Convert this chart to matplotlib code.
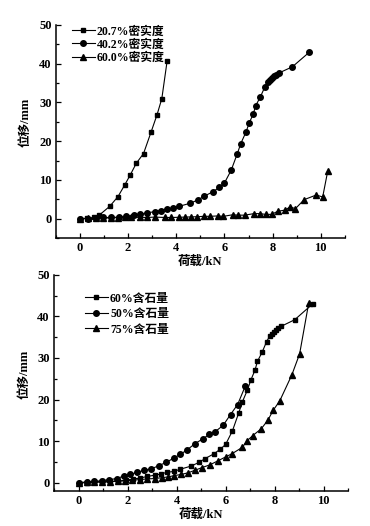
import matplotlib
matplotlib.use("Agg")
import matplotlib.pyplot as plt
from matplotlib.ticker import MultipleLocator

plt.rcParams['font.family'] = ['Liberation Serif', 'Noto Sans CJK SC']
plt.rcParams['font.weight'] = 'bold'

# -----------------------------
# Data: top chart (compaction)
# -----------------------------
d207_x = [0, 0.3, 0.6, 0.8, 1.24, 1.58, 1.85, 2.09, 2.34, 2.64, 2.95, 3.2, 3.4, 3.62]
d207_y = [0, 0.1, 0.3, 0.9, 3.2, 5.7, 8.6, 11.3, 14.3, 16.8, 22.3, 26.8, 31.0, 40.7]

d402_x = [0, 0.34, 0.65, 0.96, 1.28, 1.62, 1.93, 2.23, 2.5, 2.8, 3.1, 3.37, 3.6, 3.88,
          4.13, 4.59, 4.92, 5.16, 5.54, 5.79, 6.0, 6.28, 6.53, 6.68, 6.89, 7.03, 7.2,
          7.3, 7.49, 7.67, 7.8, 7.88, 7.96, 8.04, 8.13, 8.26, 8.82, 9.53]
d402_y = [0, 0, 0.2, 0.3, 0.3, 0.4, 0.6, 0.9, 1.1, 1.5, 1.8, 2.1, 2.5, 2.7,
          3.2, 4.0, 4.9, 5.8, 7.0, 8.1, 9.2, 12.5, 16.7, 19.4, 22.3, 24.7, 27.1,
          29.2, 31.4, 33.9, 35.3, 35.8, 36.3, 36.8, 37.1, 37.6, 39.2, 43.0]

d600_x = [0, 0.35, 0.65, 0.96, 1.3, 1.58, 1.86, 2.13, 2.48, 2.78, 3.1, 3.55, 3.8, 4.1,
          4.35, 4.6, 4.85, 5.15, 5.4, 5.72, 5.96, 6.34, 6.58, 6.84, 7.23, 7.48, 7.71,
          7.96, 8.21, 8.51, 8.72, 8.95, 9.31, 9.81, 10.08, 10.29]
d600_y = [0, 0.05, 0.1, 0.15, 0.2, 0.25, 0.3, 0.3, 0.35, 0.3, 0.4, 0.3, 0.3, 0.35,
          0.4, 0.45, 0.5, 0.6, 0.6, 0.7, 0.6, 1.0, 0.9, 0.9, 1.3, 1.3, 1.1,
          1.1, 1.9, 2.2, 3.0, 2.6, 4.9, 6.1, 5.6, 12.3]

# -----------------------------
# Data: bottom chart (stone content)
# -----------------------------
s60_x = d402_x[:-1] + [9.55]
s60_y = d402_y[:-1] + [43.0]

s50_x = [0, 0.35, 0.65, 0.96, 1.23, 1.55, 1.85, 2.12, 2.39, 2.69, 2.96, 3.27, 3.58, 3.88,
         4.15, 4.43, 4.75, 5.06, 5.33, 5.58, 5.9, 6.2, 6.49, 6.8]
s50_y = [0, 0.2, 0.3, 0.5, 0.7, 1.0, 1.6, 2.0, 2.5, 3.0, 3.3, 4.1, 4.9, 5.9,
         6.8, 7.9, 9.4, 10.5, 11.6, 12.3, 13.8, 16.4, 18.8, 23.2]

s75_x = [0, 0.35, 0.65, 0.96, 1.3, 1.6, 1.9, 2.2, 2.5, 2.8, 3.1, 3.4, 3.65, 3.9, 4.2,
         4.48, 4.75, 5.02, 5.36, 5.7, 6.0, 6.27, 6.68, 6.88, 7.1, 7.46, 7.73, 7.94,
         8.21, 8.7, 9.02, 9.39]
s75_y = [0, 0.05, 0.1, 0.15, 0.25, 0.35, 0.45, 0.6, 0.75, 0.9, 1.0, 1.2, 1.4, 1.7, 2.0,
         2.4, 3.0, 3.6, 4.3, 5.3, 6.2, 7.0, 8.5, 10.1, 11.3, 13.0, 15.1, 17.4,
         19.7, 25.9, 31.0, 43.2]

top_labels = ['20.7%密实度', '40.2%密实度', '60.0%密实度']
bottom_labels = ['60%含石量', '50%含石量', '75%含石量']

x_label = '荷载/kN'
y_label = '位移/mm'

fig = plt.figure(figsize=(3.7, 5.26), dpi=100)
ax1 = fig.add_axes([0.151, 0.5475, 0.781, 0.405])
ax2 = fig.add_axes([0.146, 0.0665, 0.795, 0.411])


def style_axis(ax, ybottom, label_xy):
    ax.set_xlim(-1, 11)
    ax.set_ylim(ybottom, 50)
    ax.spines['top'].set_visible(False)
    ax.spines['right'].set_visible(False)
    ax.spines['left'].set_linewidth(1.1)
    ax.spines['bottom'].set_linewidth(1.1)
    ax.xaxis.set_major_locator(MultipleLocator(2))
    ax.xaxis.set_minor_locator(MultipleLocator(1))
    ax.yaxis.set_major_locator(MultipleLocator(10))
    ax.yaxis.set_minor_locator(MultipleLocator(5))
    ax.tick_params(which='both', direction='in', labelsize=9, width=0.9)
    ax.tick_params(which='major', length=3.5, pad=3)
    ax.tick_params(which='minor', length=2)
    ax.set_xticks([0, 2, 4, 6, 8, 10])
    ax.set_xlabel(x_label, fontsize=9, fontweight='bold', labelpad=1)
    ax.set_ylabel(y_label, fontsize=9, fontweight='bold')
    ax.yaxis.set_label_coords(*label_xy)
    for lab in ax.get_xticklabels() + ax.get_yticklabels():
        lab.set_fontweight('bold')


kw = dict(color='black', linewidth=0.8)

ax1.plot(d207_x, d207_y, marker='s', markersize=3.5, label=top_labels[0], **kw)
ax1.plot(d402_x, d402_y, marker='o', markersize=4.0, label=top_labels[1], **kw)
ax1.plot(d600_x, d600_y, marker='^', markersize=4.4, label=top_labels[2], **kw)
style_axis(ax1, -5, (-0.085, 0.545))
ax1.legend(loc='upper left', bbox_to_anchor=(0.04, 1.02), frameon=False, fontsize=8.5,
           handlelength=1.9, handletextpad=0.2, labelspacing=0.1, borderaxespad=0,
           numpoints=1)

ax2.plot(s60_x, s60_y, marker='s', markersize=3.5, label=bottom_labels[0], **kw)
ax2.plot(s50_x, s50_y, marker='o', markersize=4.0, label=bottom_labels[1], **kw)
ax2.plot(s75_x, s75_y, marker='^', markersize=4.4, label=bottom_labels[2], **kw)
style_axis(ax2, -2, (-0.08, 0.54))
ax2.legend(loc='upper left', bbox_to_anchor=(0.09, 0.94), frameon=False, fontsize=8.5,
           handlelength=1.9, handletextpad=0.2, labelspacing=0.3, borderaxespad=0,
           numpoints=1)

fig.savefig('out.png', dpi=100)
